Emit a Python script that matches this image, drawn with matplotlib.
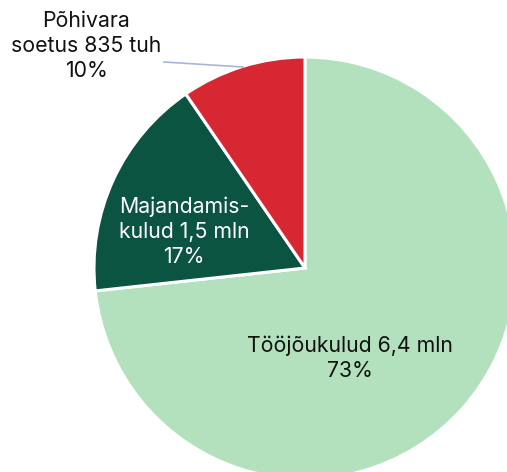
import matplotlib.pyplot as plt

# Expense breakdown (mln EUR)
categories = ["Tööjõukulud", "Majandamiskulud", "Põhivara soetus"]
values = [6.4, 1.5, 0.835]
colors = ["#b3e1bd", "#0b5441", "#d62733"]
labels = ["Tööjõukulud 6,4 mln\n73%",
          "Majandamis-\nkulud 1,5 mln\n17%",
          "Põhivara\nsoetus 835 tuh\n10%"]

plt.rcParams['font.family'] = ['Inter', 'DejaVu Sans']

fig = plt.figure(figsize=(5.07, 4.72), dpi=100)
ax = fig.add_axes([0, 0, 1, 1])

ax.pie(values, colors=colors, startangle=90, counterclock=False,
       center=(305, 204), radius=211,
       wedgeprops=dict(edgecolor='white', linewidth=2.2))

# pie() resets the limits, so set them afterwards
ax.set_xlim(0, 507)
ax.set_ylim(0, 472)
ax.set_aspect('equal')
ax.axis('off')

# Labels
fs = 15.3
ax.text(350, 114, labels[0], ha='center', va='center', fontsize=fs,
        color='#111111', linespacing=1.3)
ax.text(184, 240, labels[1], ha='center', va='center', fontsize=fs,
        color='white', linespacing=1.3)
ax.text(86, 426, labels[2], ha='center', va='center', fontsize=fs,
        color='#111111', linespacing=1.3)

# Leader line for the small slice
ax.plot([164, 243], [410, 405], color='#a9b5d9', linewidth=1.2)

plt.savefig("out.png", dpi=100)
